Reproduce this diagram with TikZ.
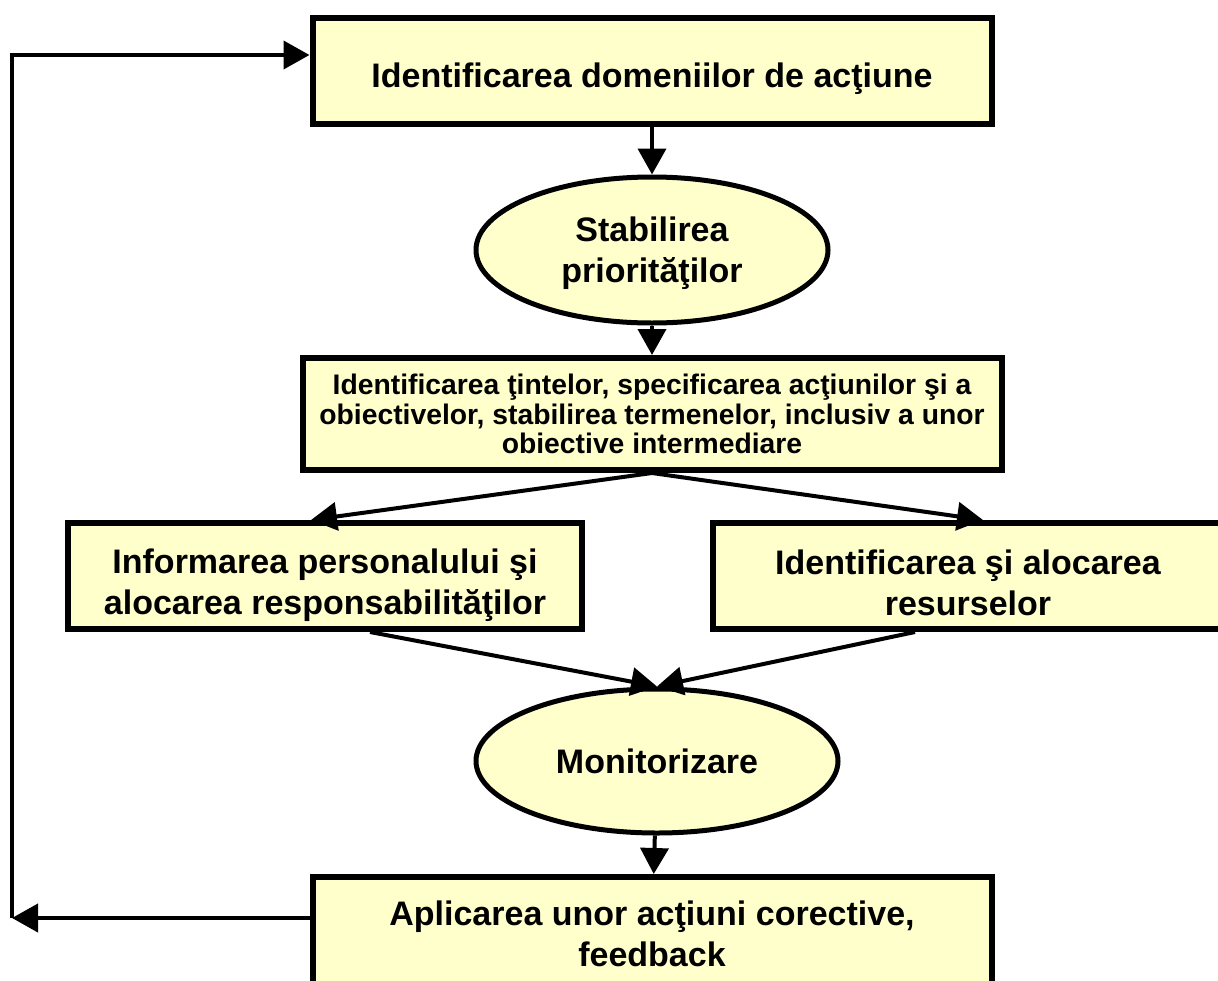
\documentclass[tikz,border=0pt]{standalone}
\usepackage{fontspec}
\setmainfont{Liberation Sans}
\usepackage{xcolor}
\usepackage{tikz}
\usetikzlibrary{arrows.meta, positioning, calc, shapes.geometric}
\definecolor{boxfill}{HTML}{FFFFCC}
\tikzset{
    stepbox/.style={draw, line width=6pt, fill=boxfill, inner sep=0pt, align=center,
        font=\bfseries\fontsize{34}{41}\selectfont},
    stepell/.style={stepbox, ellipse, line width=5pt},
    flow/.style={-{Triangle[length=26pt,width=28pt]}, line width=4pt},
    every node/.style={text=black}
}

\begin{document}
\begin{tikzpicture}[x=1pt, y=-1pt]
    \useasboundingbox (0,0) rectangle (1218,980);
    \clip (0,0) rectangle (1218,980);
    % main chain
    \node[stepbox, minimum width=679pt, minimum height=106pt, text height=40pt] (top) at (652,71)
        {Identificarea domeniilor de acţiune};
    \node[stepell, minimum width=352pt, minimum height=146pt, text height=73pt] (prio) at (652,250)
        {Stabilirea\\priorităţilor};
    \node[stepbox, minimum width=699pt, minimum height=112pt,
          font=\bfseries\fontsize{28.3}{29.5}\selectfont] (tinte) at (652,414)
        {Identificarea ţintelor, specificarea acţiunilor şi a\\obiectivelor, stabilirea termenelor, inclusiv a unor\\obiective intermediare};
    % two branches
    \node[stepbox, minimum width=514pt, minimum height=106pt, text height=85pt] (pers) at (325,576)
        {Informarea personalului şi\\alocarea responsabilităţilor};
    \node[stepbox, minimum width=510pt, minimum height=106pt, text height=79pt] (res) at (968,576)
        {Identificarea şi alocarea\\resurselor};
    \node[stepell, minimum width=362pt, minimum height=144pt] (mon) at (657,761)
        {Monitorizare};
    \node[stepbox, minimum width=679pt, minimum height=114pt] (corr) at (652,934)
        {Aplicarea unor acţiuni corective,\\feedback};
    % connectors
    \draw[flow] (top) -- (prio);
    \draw[flow] (prio) -- (tinte);
    \draw[flow] (tinte.south) -- ([xshift=-14pt]pers.north);
    \draw[flow] (tinte.south) -- ([xshift=15pt]res.north);
    \draw[flow] ([xshift=45pt]pers.south) -- (mon.north);
    \draw[flow] ([xshift=-53pt]res.south) -- (mon.north);
    \draw[flow] (mon) -- (corr);
    % feedback loop
    \coordinate (fbb) at (12,918);
    \coordinate (fbt) at (12,55);
    \draw[flow] (corr.west |- fbb) -- (fbb);
    \draw[flow] (fbb) -- (fbt) -- (top.west |- fbt);
\end{tikzpicture}
\end{document}
